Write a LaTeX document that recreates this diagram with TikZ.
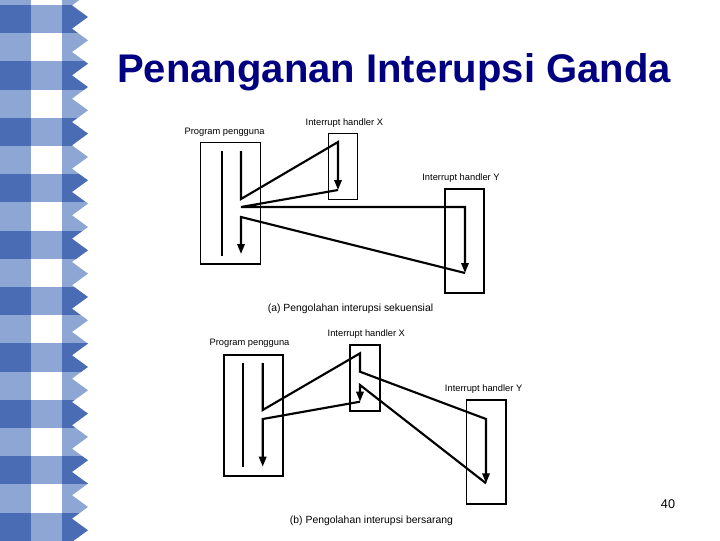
\documentclass[tikz,border=0pt]{standalone}
\usepackage{fontspec}
\setmainfont{Liberation Sans}
\usepackage{xcolor}
\usepackage{tikz}
\usetikzlibrary{positioning, arrows.meta}

\definecolor{biruTua}{RGB}{74,108,180}
\definecolor{biruMuda}{RGB}{142,166,212}
\definecolor{biruJudul}{RGB}{0,0,128}

\begin{document}
\begin{tikzpicture}[x=0.75pt,y=-0.75pt,>={Triangle[length=7.5pt,width=5.5pt]},
    kotak/.style={draw,line width=1.1pt,inner sep=0pt},
    teks/.style={font=\fontsize{7}{8}\selectfont,inner sep=0pt},
    kapsi/.style={font=\fontsize{7.8}{9}\selectfont,inner sep=0pt},
    alur/.style={->,line width=1.6pt},
    garis/.style={line width=0.9pt}]
    \useasboundingbox (0,0) rectangle (720,540);

    % pinggiran kotak-kotak
    \foreach \k in {-1,...,19} {
        \ifodd\k
            \fill[biruMuda] (0,{5+28.2*\k}) rectangle (31,{5+28.2*(\k+1)});
        \else
            \fill[biruTua] (0,{5+28.2*\k}) rectangle (31,{5+28.2*(\k+1)});
            \fill[biruMuda] (31,{5+28.2*\k}) rectangle (62,{5+28.2*(\k+1)});
        \fi
    }
    \begin{scope}
        \clip (62,-20) foreach \k in {-1,...,23} {-- (88,{17+23.33*\k}) -- (72,{28.67+23.33*\k})} -- (62,560) -- cycle;
        \foreach \k in {-1,...,19} {
            \ifodd\k
                \fill[biruMuda] (61.5,{5+28.2*\k}) rectangle (90,{5+28.2*(\k+1)});
            \else
                \fill[biruTua] (61.5,{5+28.2*\k}) rectangle (90,{5+28.2*(\k+1)});
            \fi
        }
    \end{scope}

    \node[font=\fontsize{30}{36}\selectfont\bfseries, text=biruJudul, anchor=base] (judul) at (394,82) {Penanganan Interupsi Ganda};

    % (a) sekuensial
    \node[kotak, minimum width=45pt, minimum height=91.3pt] (progA) at (230.7,203.2) {};
    \node[kotak, minimum width=22pt, minimum height=49.5pt] (hxA) at (343,166.3) {};
    \node[kotak, minimum width=29.3pt, minimum height=78pt] (hyA) at (464.5,241) {};
    \node[teks, above=4pt of progA, xshift=-4.6pt] (lpA) {Program pengguna};
    \node[teks, above=4pt of hxA, xshift=1pt] (lxA) {Interrupt handler X};
    \node[teks, above=4pt of hyA, xshift=-2.6pt] (lyA) {Interrupt handler Y};
    \node[kapsi] (kapA) at (350.5,309) {(a) Pengolahan interupsi sekuensial};

    \coordinate (ia1) at (222,151);
    \coordinate (ia2) at (222,256);
    \coordinate (a1) at (241,151);
    \coordinate (a2) at (241,199);
    \coordinate (a3) at (338,142);
    \coordinate (a4) at (338,190);
    \coordinate (a5) at (241,207);
    \coordinate (a6) at (465,207);
    \coordinate (a7) at (465,273);
    \coordinate (a8) at (241,217);
    \coordinate (a9) at (241,254);

    \draw[garis] (ia1) -- (ia2);
    \draw[alur] (a1) -- (a2) -- (a3) -- (a4);
    \draw[alur] (a4) -- (a5) -- (a6) -- (a7);
    \draw[alur] (a7) -- (a8) -- (a9);

    % (b) bersarang
    \node[kotak, minimum width=44.3pt, minimum height=90.8pt] (progB) at (253.5,415.5) {};
    \node[kotak, minimum width=22.5pt, minimum height=49.5pt] (hxB) at (365,378) {};
    \node[kotak, minimum width=29.5pt, minimum height=78pt] (hyB) at (486.3,452) {};
    \node[teks, above=5pt of progB, xshift=-3pt] (lpB) {Program pengguna};
    \node[teks, above=4pt of hxB, xshift=1pt] (lxB) {Interrupt handler X};
    \node[teks, above=4pt of hyB, xshift=-2pt] (lyB) {Interrupt handler Y};
    \node[kapsi] (kapB) at (371.5,521) {(b) Pengolahan interupsi bersarang};

    \coordinate (ib1) at (243,363);
    \coordinate (ib2) at (243,467);
    \coordinate (b1) at (262.7,363);
    \coordinate (b2) at (262.7,410);
    \coordinate (b3) at (360,353.3);
    \coordinate (b4) at (360,371.7);
    \coordinate (b5) at (486,419);
    \coordinate (b6) at (486,483.3);
    \coordinate (b7) at (360,385);
    \coordinate (b8) at (360,401.7);
    \coordinate (b9) at (262.7,419);
    \coordinate (b10) at (262.7,466.7);

    \draw[garis] (ib1) -- (ib2);
    \draw[alur] (b1) -- (b2) -- (b3) -- (b4) -- (b5) -- (b6);
    \draw[alur] (b6) -- (b7) -- (b8);
    \draw[alur] (b8) -- (b9) -- (b10);

    \node[font=\fontsize{9.5}{11}\selectfont] (hal) at (668,504) {40};
\end{tikzpicture}
\end{document}
